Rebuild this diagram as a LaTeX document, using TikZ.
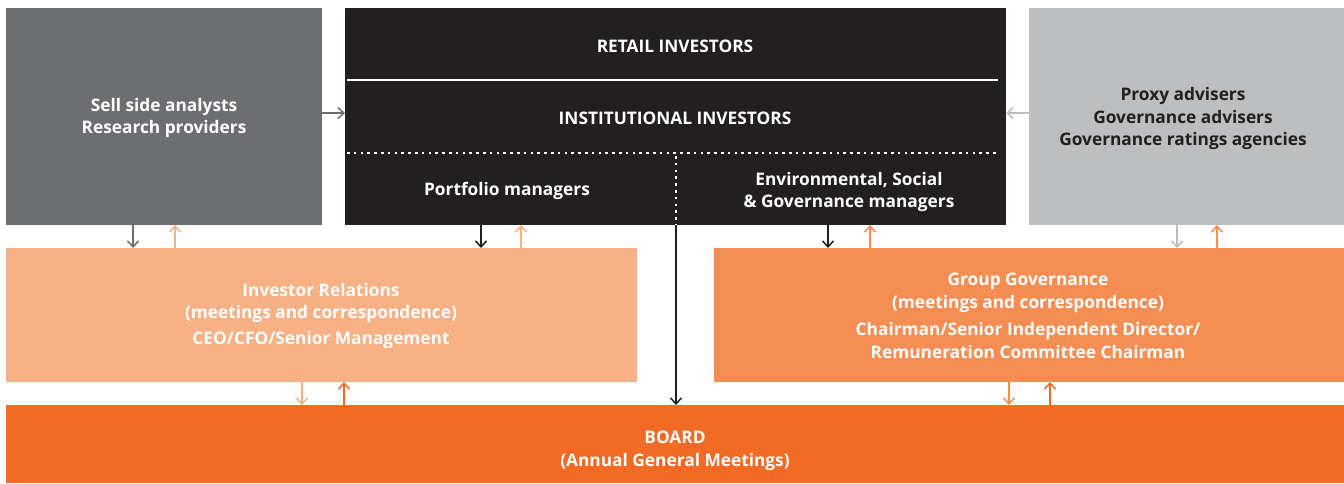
\documentclass[tikz,border=0pt]{standalone}
\usepackage{fontspec}
\setmainfont{Open Sans}
\usetikzlibrary{arrows.meta}
\definecolor{cgray}{HTML}{6D6E71}
\definecolor{cblack}{HTML}{231F20}
\definecolor{clgray}{HTML}{BCBEC0}
\definecolor{clorange}{HTML}{F8B085}
\definecolor{cmorange}{HTML}{F68D52}
\definecolor{cboard}{HTML}{F26A24}
\tikzset{
  box/.style={anchor=north west, inner sep=0pt, outer sep=0pt},
  txt/.style={text=white, font=\bfseries\fontsize{17.3}{22.5}\selectfont, align=center, inner sep=0pt},
  arr/.style={line width=1.5pt, -{Straight Barb[length=6pt,width=11pt,line width=1.5pt]}},
  dots/.style={white, line width=2.6pt, dash pattern=on 2.6pt off 4.2pt}
}
\begin{document}
\begin{tikzpicture}[x=1pt,y=-1pt]
\useasboundingbox (0,0) rectangle (1344,483);
\fill[white] (0,0) rectangle (1344,483);
% boxes
\node[box, fill=cgray, minimum width=316pt, minimum height=217pt] (sell) at (6,8) {};
\node[box, fill=cblack, minimum width=661pt, minimum height=217pt] (inv) at (345,8) {};
\node[box, fill=clgray, minimum width=315pt, minimum height=217pt] (proxy) at (1029,8) {};
\node[box, fill=clorange, minimum width=631pt, minimum height=134pt] (ir) at (6,248) {};
\node[box, fill=cmorange, minimum width=630pt, minimum height=134pt] (gg) at (714,248) {};
\node[box, fill=cboard, minimum width=1338pt, minimum height=78pt] (board) at (6,405) {};
% internal lines in investors box
\coordinate (rl) at (347,80); \coordinate (rr) at (998,80);
\draw[white, line width=2pt] (rl) -- (rr);
\coordinate (dl) at (347,153); \coordinate (dr) at (998,153);
\draw[dots] (dl) -- (dr);
\coordinate (dm) at (676,156);
\draw[dots] (dm) -- (inv.south -| dm);
% texts
\node[txt] (t1) at (164,118) {Sell side analysts\\Research providers};
\node[txt] (t2) at (675,46.5) {RETAIL INVESTORS};
\node[txt] (t3) at (675,118.5) {INSTITUTIONAL INVESTORS};
\node[txt] (t4) at (507,190.5) {Portfolio managers};
\node[txt] (t5) at (849,192) {Environmental, Social\\\& Governance managers};
\node[txt, text=cblack] (t6) at (1183,119) {Proxy advisers\\Governance advisers\\Governance ratings agencies};
\node[txt] (t7) at (321,315.5) {Investor Relations\\(meetings and correspondence)\\[3pt]CEO/CFO/Senior Management};
\node[txt] (t8) at (1028,316) {Group Governance\\(meetings and correspondence)\\[5pt]Chairman/Senior Independent Director/\\Remuneration Committee Chairman};
\node[txt] (t9) at (675,451) {BOARD\\(Annual General Meetings)};
% horizontal arrows
\draw[arr, cgray] (sell.east |- 0,113) -- (inv.west |- 0,113);
\draw[arr, clgray] (proxy.west |- 0,113) -- (inv.east |- 0,113);
% top-to-middle arrows
\draw[arr, cgray] (sell.south -| 133,0) -- (ir.north -| 133,0);
\draw[arr, clorange] (ir.north -| 175,0) -- (sell.south -| 175,0);
\draw[arr, cblack] (inv.south -| 481,0) -- (ir.north -| 481,0);
\draw[arr, clorange] (ir.north -| 521,0) -- (inv.south -| 521,0);
\draw[arr, cblack] (inv.south -| 828,0) -- (gg.north -| 828,0);
\draw[arr, cmorange] (gg.north -| 870,0) -- (inv.south -| 870,0);
\draw[arr, clgray] (proxy.south -| 1177,0) -- (gg.north -| 1177,0);
\draw[arr, cmorange] (gg.north -| 1217,0) -- (proxy.south -| 1217,0);
% middle-to-board arrows
\draw[arr, clorange] (ir.south -| 302,0) -- (board.north -| 302,0);
\draw[arr, cboard] (board.north -| 344,0) -- (ir.south -| 344,0);
\draw[arr, cmorange] (gg.south -| 1009,0) -- (board.north -| 1009,0);
\draw[arr, cboard] (board.north -| 1050,0) -- (gg.south -| 1050,0);
% long arrow
\draw[arr, cblack] (inv.south -| dm) -- (board.north -| dm);
\end{tikzpicture}
\end{document}
